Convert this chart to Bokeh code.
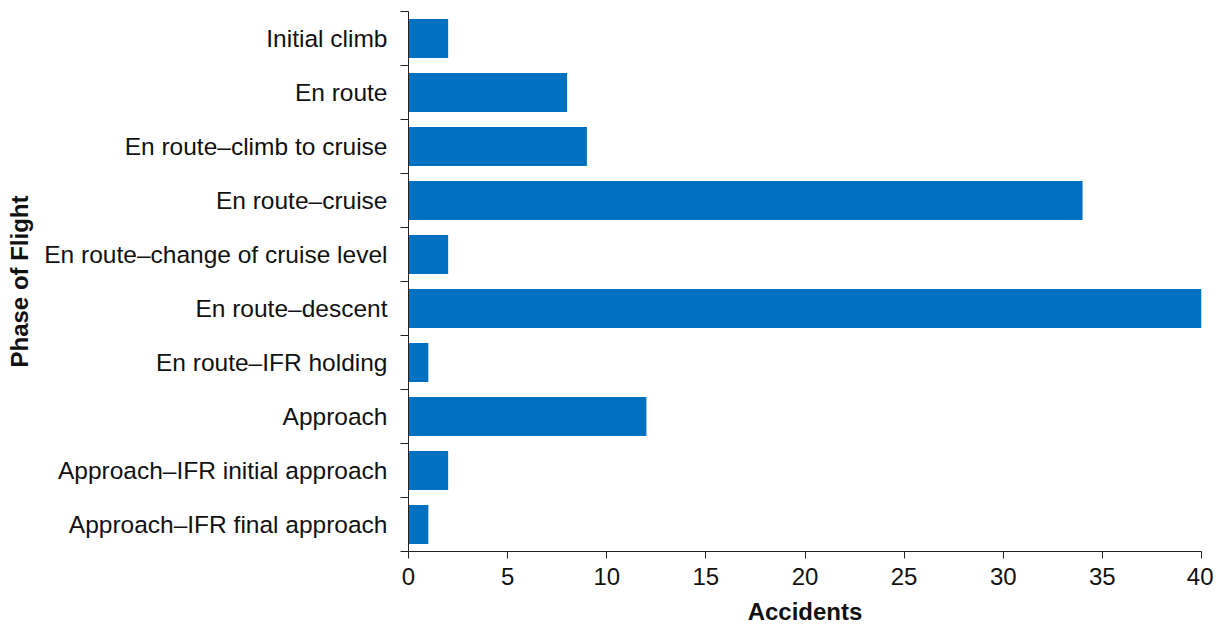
from bokeh.plotting import figure
from bokeh.models import Range1d, FixedTicker
from bokeh.embed import file_html
from bokeh.resources import INLINE

categories = [
    "Initial climb",
    "En route",
    "En route\u2013climb to cruise",
    "En route\u2013cruise",
    "En route\u2013change of cruise level",
    "En route\u2013descent",
    "En route\u2013IFR holding",
    "Approach",
    "Approach\u2013IFR initial approach",
    "Approach\u2013IFR final approach",
]
accidents = [2, 8, 9, 34, 2, 40, 1, 12, 2, 1]
x_ticks = [0, 5, 10, 15, 20, 25, 30, 35, 40]

n = len(categories)
centers = [i + 0.5 for i in range(n)]
bounds = [float(i) for i in range(n + 1)]

p = figure(width=1213, height=628, output_backend="svg", toolbar_location=None,
           x_range=Range1d(0, 40), y_range=Range1d(n, 0),
           min_border_left=408, min_border_right=12, min_border_top=11, min_border_bottom=77)
p.outline_line_color = None
p.xgrid.grid_line_color = None
p.ygrid.grid_line_color = None

p.hbar(y=centers, left=0, right=accidents, height=0.72, fill_color="#0070C0", line_color=None)

FONT = "Liberation Sans"
xa = p.xaxis[0]
xa.ticker = FixedTicker(ticks=x_ticks)
xa.major_tick_in = 0
xa.major_tick_out = 7
xa.minor_tick_line_color = None
xa.axis_line_color = "#222222"
xa.major_tick_line_color = "#222222"
xa.major_label_text_font = FONT
xa.major_label_text_font_size = "24px"
xa.major_label_text_color = "#111111"
xa.major_label_standoff = 9
xa.axis_label = "Accidents"
xa.axis_label_text_font = FONT
xa.axis_label_text_font_size = "24px"
xa.axis_label_text_font_style = "bold"
xa.axis_label_text_color = "#111111"
xa.axis_label_standoff = 10

ya = p.yaxis[0]
ya.ticker = FixedTicker(ticks=centers, minor_ticks=bounds)
ya.major_label_overrides = {c: lab for c, lab in zip(centers, categories)}
ya.major_tick_in = 0
ya.major_tick_out = 0
ya.major_tick_line_color = None
ya.minor_tick_in = 0
ya.minor_tick_out = 8
ya.minor_tick_line_color = "#222222"
ya.axis_line_color = "#222222"
ya.major_label_text_font = FONT
ya.major_label_text_font_size = "24.5px"
ya.major_label_text_color = "#111111"
ya.major_label_standoff = 13
ya.axis_label = "Phase of Flight"
ya.axis_label_text_font = FONT
ya.axis_label_text_font_size = "24px"
ya.axis_label_text_font_style = "bold"
ya.axis_label_text_color = "#111111"
ya.axis_label_standoff = 8

open("out.html", "w").write(file_html(p, INLINE))
